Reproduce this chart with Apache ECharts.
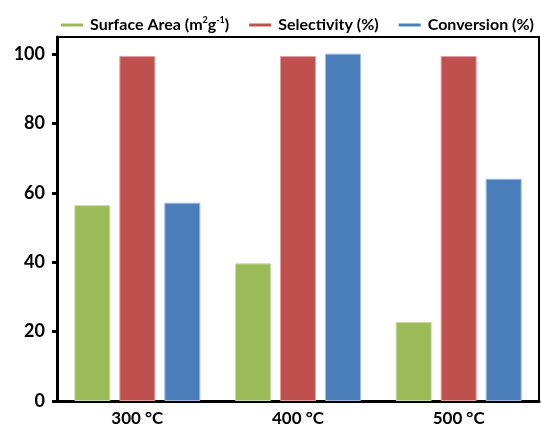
<!DOCTYPE html>
<html>
<head>
<meta charset="utf-8">
<script src="https://cdn.jsdelivr.net/npm/echarts@6/dist/echarts.min.js"></script>
<style>
  html, body { margin: 0; padding: 0; background: #fff; }
  #chart { width: 541px; height: 429px; }
</style>
</head>
<body>
<div id="chart"></div>
<script>
// Calcination temperatures on the category axis
var categories = ['300 °C', '400 °C', '500 °C'];
// Measured values per temperature
var surfaceArea = [56.5, 39.7, 22.8];
var selectivity = [99.5, 99.5, 99.5];
var conversion = [57.2, 100.2, 64.1];
// Value-axis ticks
var yTicks = [0, 20, 40, 60, 80, 100];

var FONT = 'Lato, "Open Sans", sans-serif';

var chart = echarts.init(document.getElementById('chart'), null, { renderer: 'canvas' });

function barSeries(name, data, color, border) {
  return {
    name: name,
    type: 'bar',
    data: data,
    barWidth: 36,
    barGap: '25%',
    itemStyle: { color: color, borderColor: border, borderWidth: 1 }
  };
}

chart.setOption({
  animation: false,
  textStyle: { fontFamily: FONT },
  legend: {
    top: 16,
    left: 61,
    width: 480,
    padding: 0,
    icon: 'rect',
    itemWidth: 22,
    itemHeight: 3,
    itemGap: 20,
    itemStyle: { borderWidth: 0 },
    textStyle: {
      fontFamily: FONT,
      fontWeight: 'bold',
      fontSize: 16,
      color: '#000',
      padding: [0, 0, 0, 2],
      rich: {
        b: { fontFamily: FONT, fontWeight: 'bold', fontSize: 16, color: '#000' },
        sup: { fontFamily: FONT, fontWeight: 'bold', fontSize: 9, color: '#000', verticalAlign: 'top', padding: [0, 0, 9, 0] }
      }
    },
    formatter: function (name) {
      if (name === 'Surface Area') {
        return '{b|Surface Area (m}{sup|2}{b|g}{sup|-1}{b|)}';
      }
      return '{b|' + name + '}';
    },
    data: ['Surface Area', 'Selectivity (%)', 'Conversion (%)']
  },
  grid: {
    left: 57, right: 2, top: 37, bottom: 28,
    show: true, borderColor: '#000', borderWidth: 2, backgroundColor: 'transparent'
  },
  xAxis: {
    type: 'category',
    data: categories,
    axisLine: { lineStyle: { color: '#000', width: 3 } },
    axisTick: { show: false },
    axisLabel: { color: '#000', fontFamily: FONT, fontWeight: 'bold', fontSize: 17, margin: 9 }
  },
  yAxis: {
    type: 'value',
    min: 0,
    max: 105,
    interval: 20,
    axisLine: { show: true, lineStyle: { color: '#000', width: 3 } },
    axisTick: { show: true, length: 5, lineStyle: { color: '#000', width: 3 },
      customValues: yTicks },
    splitLine: { show: false },
    axisLabel: {
      color: '#000', fontFamily: FONT, fontWeight: 'bold', fontSize: 18, margin: 12,
      customValues: yTicks
    }
  },
  series: [
    barSeries('Surface Area', surfaceArea, '#9BBB59', '#c9dba6'),
    barSeries('Selectivity (%)', selectivity, '#C0504D', '#e0a09e'),
    barSeries('Conversion (%)', conversion, '#4A7EBB', '#9dbde3')
  ]
});
</script>
</body>
</html>
